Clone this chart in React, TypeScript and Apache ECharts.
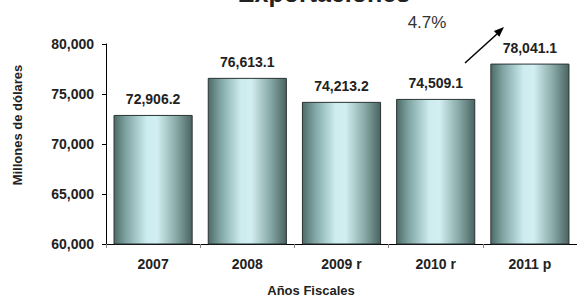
import React, { useEffect, useRef } from "react";
import * as echarts from "echarts";

const categories = ["2007", "2008", "2009 r", "2010 r", "2011 p"];
const exportValues = [72906.2, 76613.1, 74213.2, 74509.1, 78041.1];
const growthLabel = "4.7%";
const titleText = "Exportaciones";
const yAxisName = "Millones de dólares";
const xAxisName = "Años Fiscales";

const FONT = "Arial, 'Liberation Sans', Helvetica, sans-serif";

const fmt = (v: number, d: number) =>
  v.toLocaleString("en-US", { minimumFractionDigits: d, maximumFractionDigits: d });

export default function App() {
  const ref = useRef<HTMLDivElement>(null);
  useEffect(() => {
    if (!ref.current) return;
    const chart = echarts.init(ref.current, null, { renderer: "svg" });
    const barGradient = new echarts.graphic.LinearGradient(0, 0, 1, 0, [
      { offset: 0, color: "#4d6b68" },
      { offset: 0.15, color: "#7ea3a1" },
      { offset: 0.42, color: "#cdedf0" },
      { offset: 0.55, color: "#d2eef1" },
      { offset: 0.8, color: "#86a8a6" },
      { offset: 1, color: "#4a6361" },
    ]);
    chart.setOption({
      animation: false,
      backgroundColor: "#ffffff",
      textStyle: { fontFamily: FONT },
      grid: { left: 106, top: 44, width: 474, height: 200, containLabel: false },
      xAxis: {
        type: "category",
        data: categories,
        axisLine: { lineStyle: { color: "#000", width: 1 } },
        axisTick: { show: true, length: 4, lineStyle: { color: "#888" } },
        axisLabel: { color: "#222", fontWeight: "bold", fontSize: 14, margin: 13, fontFamily: FONT },
      },
      yAxis: {
        type: "value",
        min: 60000,
        max: 80000,
        interval: 5000,
        splitLine: { show: false },
        axisLine: { show: true, lineStyle: { color: "#000", width: 1 } },
        axisTick: { show: true, length: 4, lineStyle: { color: "#000" } },
        axisLabel: {
          color: "#222",
          fontWeight: "bold",
          fontSize: 14,
          margin: 12,
          fontFamily: FONT,
          formatter: (v: number) => fmt(v, 0),
        },
      },
      series: [
        {
          type: "bar",
          data: exportValues,
          barWidth: "84%",
          itemStyle: { color: barGradient, borderColor: "#2a3332", borderWidth: 1 },
          label: {
            show: true,
            position: "top",
            distance: 9,
            color: "#222",
            fontWeight: "bold",
            fontSize: 14,
            fontFamily: FONT,
            formatter: (p: any) => fmt(p.value, 1),
          },
        },
      ],
      graphic: [
        {
          type: "text",
          x: 324,
          y: 5,
          style: {
            text: titleText,
            fontSize: 25,
            fontWeight: "bold",
            fontFamily: FONT,
            fill: "#222",
            align: "center",
            verticalAlign: "bottom",
          },
        },
        {
          type: "text",
          x: 427,
          y: 22,
          style: {
            text: growthLabel,
            fontSize: 17,
            fontFamily: FONT,
            fill: "#333",
            align: "center",
            verticalAlign: "middle",
          },
        },
        {
          type: "line",
          shape: { x1: 465, y1: 63, x2: 497, y2: 34 },
          style: { stroke: "#000", lineWidth: 1.5 },
        },
        {
          type: "polygon",
          shape: { points: [[504, 27], [499.3, 36.7], [493.9, 30.9]] },
          style: { fill: "#000" },
        },
        {
          type: "text",
          x: 17,
          y: 125,
          rotation: Math.PI / 2,
          style: {
            text: yAxisName,
            fontSize: 13,
            fontWeight: "bold",
            fontFamily: FONT,
            fill: "#222",
            align: "center",
            verticalAlign: "middle",
          },
        },
        {
          type: "text",
          x: 311,
          y: 290,
          style: {
            text: xAxisName,
            fontSize: 13,
            fontWeight: "bold",
            fontFamily: FONT,
            fill: "#222",
            align: "center",
            verticalAlign: "middle",
          },
        },
      ],
    });
    return () => chart.dispose();
  }, []);
  return <div ref={ref} style={{ width: 577, height: 297, position: "absolute", left: 0, top: 0 }} />;
}
